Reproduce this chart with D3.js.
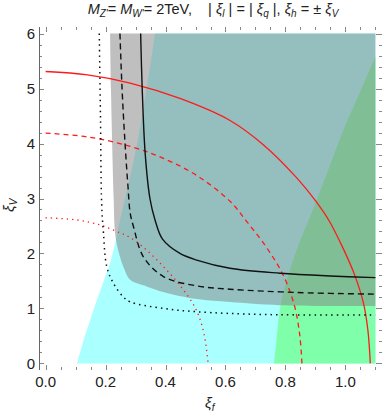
<!DOCTYPE html>
<html>
<head>
<meta charset="utf-8">
<script src="https://cdn.jsdelivr.net/npm/d3@7"></script>
<style>
  body { margin: 0; background: #fff; }
  text { font-family: "Liberation Sans", Arial, sans-serif; fill: #222; }
</style>
</head>
<body>
<div id="chart"></div>
<script>
// tick values
var xMajor = [0, 0.2, 0.4, 0.6, 0.8, 1.0];
var yMajor = [0, 1, 2, 3, 4, 5, 6];

// filled regions, [xi_f, xi_V]
var cyanEdge = [[0.105, 0], [0.12, 0.3], [0.138, 0.61], [0.171, 1.15], [0.215, 1.83], [0.232, 2.19],
  [0.248, 2.61], [0.28, 3.35], [0.32, 4.43], [0.365, 6]];
var greenEdge = [[0.762, 0], [0.77, 0.42], [0.787, 1.15], [0.837, 2.06], [0.888, 2.75], [0.94, 3.48],
  [0.995, 4.27], [1.05, 4.95], [1.1, 5.58]];
var greyEdge = [[0.215, 6], [0.218, 5], [0.222, 4], [0.227, 3], [0.232, 2.36], [0.245, 2.0], [0.262, 1.72],
  [0.282, 1.52], [0.337, 1.40], [0.392, 1.30], [0.505, 1.17], [0.615, 1.117], [0.782, 1.06], [1.1, 1.044]];

// contour lines
var blackSolid = [[0.317, 6], [0.322, 5.03], [0.332, 3.83], [0.348, 3.0], [0.365, 2.61], [0.39, 2.26],
  [0.448, 2.0], [0.504, 1.88], [0.615, 1.73], [0.782, 1.64], [0.949, 1.59], [1.1, 1.56]];
var blackDashed = [[0.248, 6], [0.255, 5], [0.265, 4], [0.275, 3.2], [0.282, 2.74], [0.293, 2.49],
  [0.326, 1.94], [0.393, 1.58], [0.504, 1.41], [0.615, 1.35], [0.837, 1.29], [1.1, 1.26]];
var blackDotted = [[0.179, 6], [0.183, 4.5], [0.187, 2.91], [0.193, 2.37], [0.204, 1.76], [0.226, 1.46],
  [0.259, 1.21], [0.282, 1.12], [0.393, 1.0], [0.504, 0.94], [0.726, 0.89], [1.1, 0.88]];
var redSolid = [[0, 5.31], [0.14, 5.25], [0.282, 5.1], [0.448, 4.82], [0.615, 4.42], [0.726, 3.98],
  [0.837, 3.38], [0.9, 2.96], [0.945, 2.6], [0.99, 2.12], [1.03, 1.62], [1.06, 1.1], [1.075, 0.6], [1.083, 0]];
var redDashed = [[0, 4.19], [0.14, 4.12], [0.282, 3.95], [0.393, 3.73], [0.504, 3.42], [0.615, 2.95],
  [0.671, 2.58], [0.738, 2.1], [0.793, 1.6], [0.83, 1.05], [0.848, 0.5], [0.855, 0]];
var redDotted = [[0, 2.65], [0.104, 2.61], [0.181, 2.52], [0.237, 2.40], [0.282, 2.29], [0.337, 2.06],
  [0.393, 1.76], [0.448, 1.42], [0.5, 1.0], [0.528, 0.55], [0.542, 0]];

var W = 382, H = 415;
var fL = 39, fR = 382, fT = 27, fB = 370;

var x = d3.scaleLinear().domain([-0.022, 1.122]).range([fL, fR]);
var y = d3.scaleLinear().domain([-0.12, 6.12]).range([fB, fT]);

var svg = d3.select("#chart").append("svg")
  .attr("width", W).attr("height", H);

var smooth = d3.line()
  .x(d => x(d[0]))
  .y(d => y(d[1]))
  .curve(d3.curveCatmullRom.alpha(0.5));

// smooth edge followed by straight closing corners
function region(edge, closing) {
  return smooth(edge) + closing.map(d => "L" + x(d[0]) + "," + y(d[1])).join("") + "Z";
}

// cyan
svg.append("path")
  .attr("d", region(cyanEdge, [[1.1, 6], [1.1, 0]]))
  .attr("fill", "#aaffff");
// green
svg.append("path")
  .attr("d", region(greenEdge, [[1.1, 0]]))
  .attr("fill", "#80ffaa");
// grey on top, half transparent
svg.append("path")
  .attr("d", region(greyEdge, [[1.1, 6]]))
  .attr("fill", "#808080")
  .attr("fill-opacity", 0.5);

// curves
var curves = [
  { d: redSolid, c: "#ff1a1a", w: 1.3, dash: null },
  { d: redDashed, c: "#ff1a1a", w: 1.3, dash: "5,4" },
  { d: redDotted, c: "#ff1a1a", w: 1.3, dash: "1.3,4" },
  { d: blackSolid, c: "#111", w: 1.4, dash: null },
  { d: blackDashed, c: "#111", w: 1.4, dash: "6,4" },
  { d: blackDotted, c: "#111", w: 1.5, dash: "1.5,4" }
];
curves.forEach(function(s) {
  svg.append("path")
    .attr("d", smooth(s.d))
    .attr("fill", "none")
    .attr("stroke", s.c)
    .attr("stroke-width", s.w)
    .attr("stroke-dasharray", s.dash);
});

// frame ticks
var tk = svg.append("g").attr("stroke", "#888").attr("stroke-width", 1);
var xMinor = d3.range(0, 1.1001, 0.05).filter(v => xMajor.every(m => Math.abs(m - v) > 1e-6));
var yMinor = d3.range(0, 6.001, 0.2).filter(v => yMajor.every(m => Math.abs(m - v) > 1e-6));

xMajor.forEach(function(v) {
  var px = Math.round(x(v)) + 0.5;
  tk.append("line").attr("x1", px).attr("x2", px).attr("y1", fB).attr("y2", fB - 5);
  tk.append("line").attr("x1", px).attr("x2", px).attr("y1", fT).attr("y2", fT + 5);
});
xMinor.forEach(function(v) {
  var px = Math.round(x(v)) + 0.5;
  tk.append("line").attr("x1", px).attr("x2", px).attr("y1", fB).attr("y2", fB - 3);
  tk.append("line").attr("x1", px).attr("x2", px).attr("y1", fT).attr("y2", fT + 3);
});
yMajor.forEach(function(v) {
  var py = Math.round(y(v)) + 0.5;
  tk.append("line").attr("x1", fL).attr("x2", fL + 5).attr("y1", py).attr("y2", py);
  tk.append("line").attr("x1", fR).attr("x2", fR - 6).attr("y1", py).attr("y2", py);
});
yMinor.forEach(function(v) {
  var py = Math.round(y(v)) + 0.5;
  tk.append("line").attr("x1", fL).attr("x2", fL + 3).attr("y1", py).attr("y2", py);
  tk.append("line").attr("x1", fR).attr("x2", fR - 3).attr("y1", py).attr("y2", py);
});

// left axis line
svg.append("line")
  .attr("x1", fL + 0.5).attr("x2", fL + 0.5)
  .attr("y1", fT).attr("y2", fB)
  .attr("stroke", "#666").attr("stroke-width", 1);

// tick labels
svg.append("g").selectAll("text").data(yMajor).enter().append("text")
  .attr("x", 35).attr("y", d => y(d)).attr("dy", "0.36em")
  .attr("text-anchor", "end").attr("font-size", 15)
  .text(d => d);
svg.append("g").selectAll("text").data(xMajor).enter().append("text")
  .attr("x", d => x(d)).attr("y", 387)
  .attr("text-anchor", "middle").attr("font-size", 15)
  .text(d => d.toFixed(1));

// axis labels
var xl = svg.append("text").attr("x", 205).attr("y", 408).attr("font-size", 15);
xl.append("tspan").attr("font-style", "italic").text("ξ");
xl.append("tspan").attr("font-style", "italic").attr("font-size", 10).attr("dy", 3).text("f");

var yl = svg.append("text").attr("transform", "translate(14,212) rotate(-90)").attr("font-size", 15);
yl.append("tspan").attr("font-style", "italic").text("ξ");
yl.append("tspan").attr("font-style", "italic").attr("font-size", 10).attr("dy", 3).text("V");

// title
var t = svg.append("text").attr("x", 213).attr("y", 14).attr("font-size", 14.5)
  .attr("text-anchor", "middle").style("white-space", "pre");
function part(str, it, sub) {
  var s = t.append("tspan").text(str);
  if (it) s.attr("font-style", "italic");
  if (sub) s.attr("font-size", 10).attr("dy", 3);
  return s;
}
part("M", true); part("Z'", true, true); t.append("tspan").attr("dy", -3).text("= ");
part("M", true); part("W'", true, true); t.append("tspan").attr("dy", -3).text("= 2TeV,    | ");
part("ξ", true); part("l", true, true); t.append("tspan").attr("dy", -3).text(" | = | ");
part("ξ", true); part("q", true, true); t.append("tspan").attr("dy", -3).text(" |, ");
part("ξ", true); part("h", true, true); t.append("tspan").attr("dy", -3).text(" = ± ");
part("ξ", true); part("V", true, true);
</script>
</body>
</html>
